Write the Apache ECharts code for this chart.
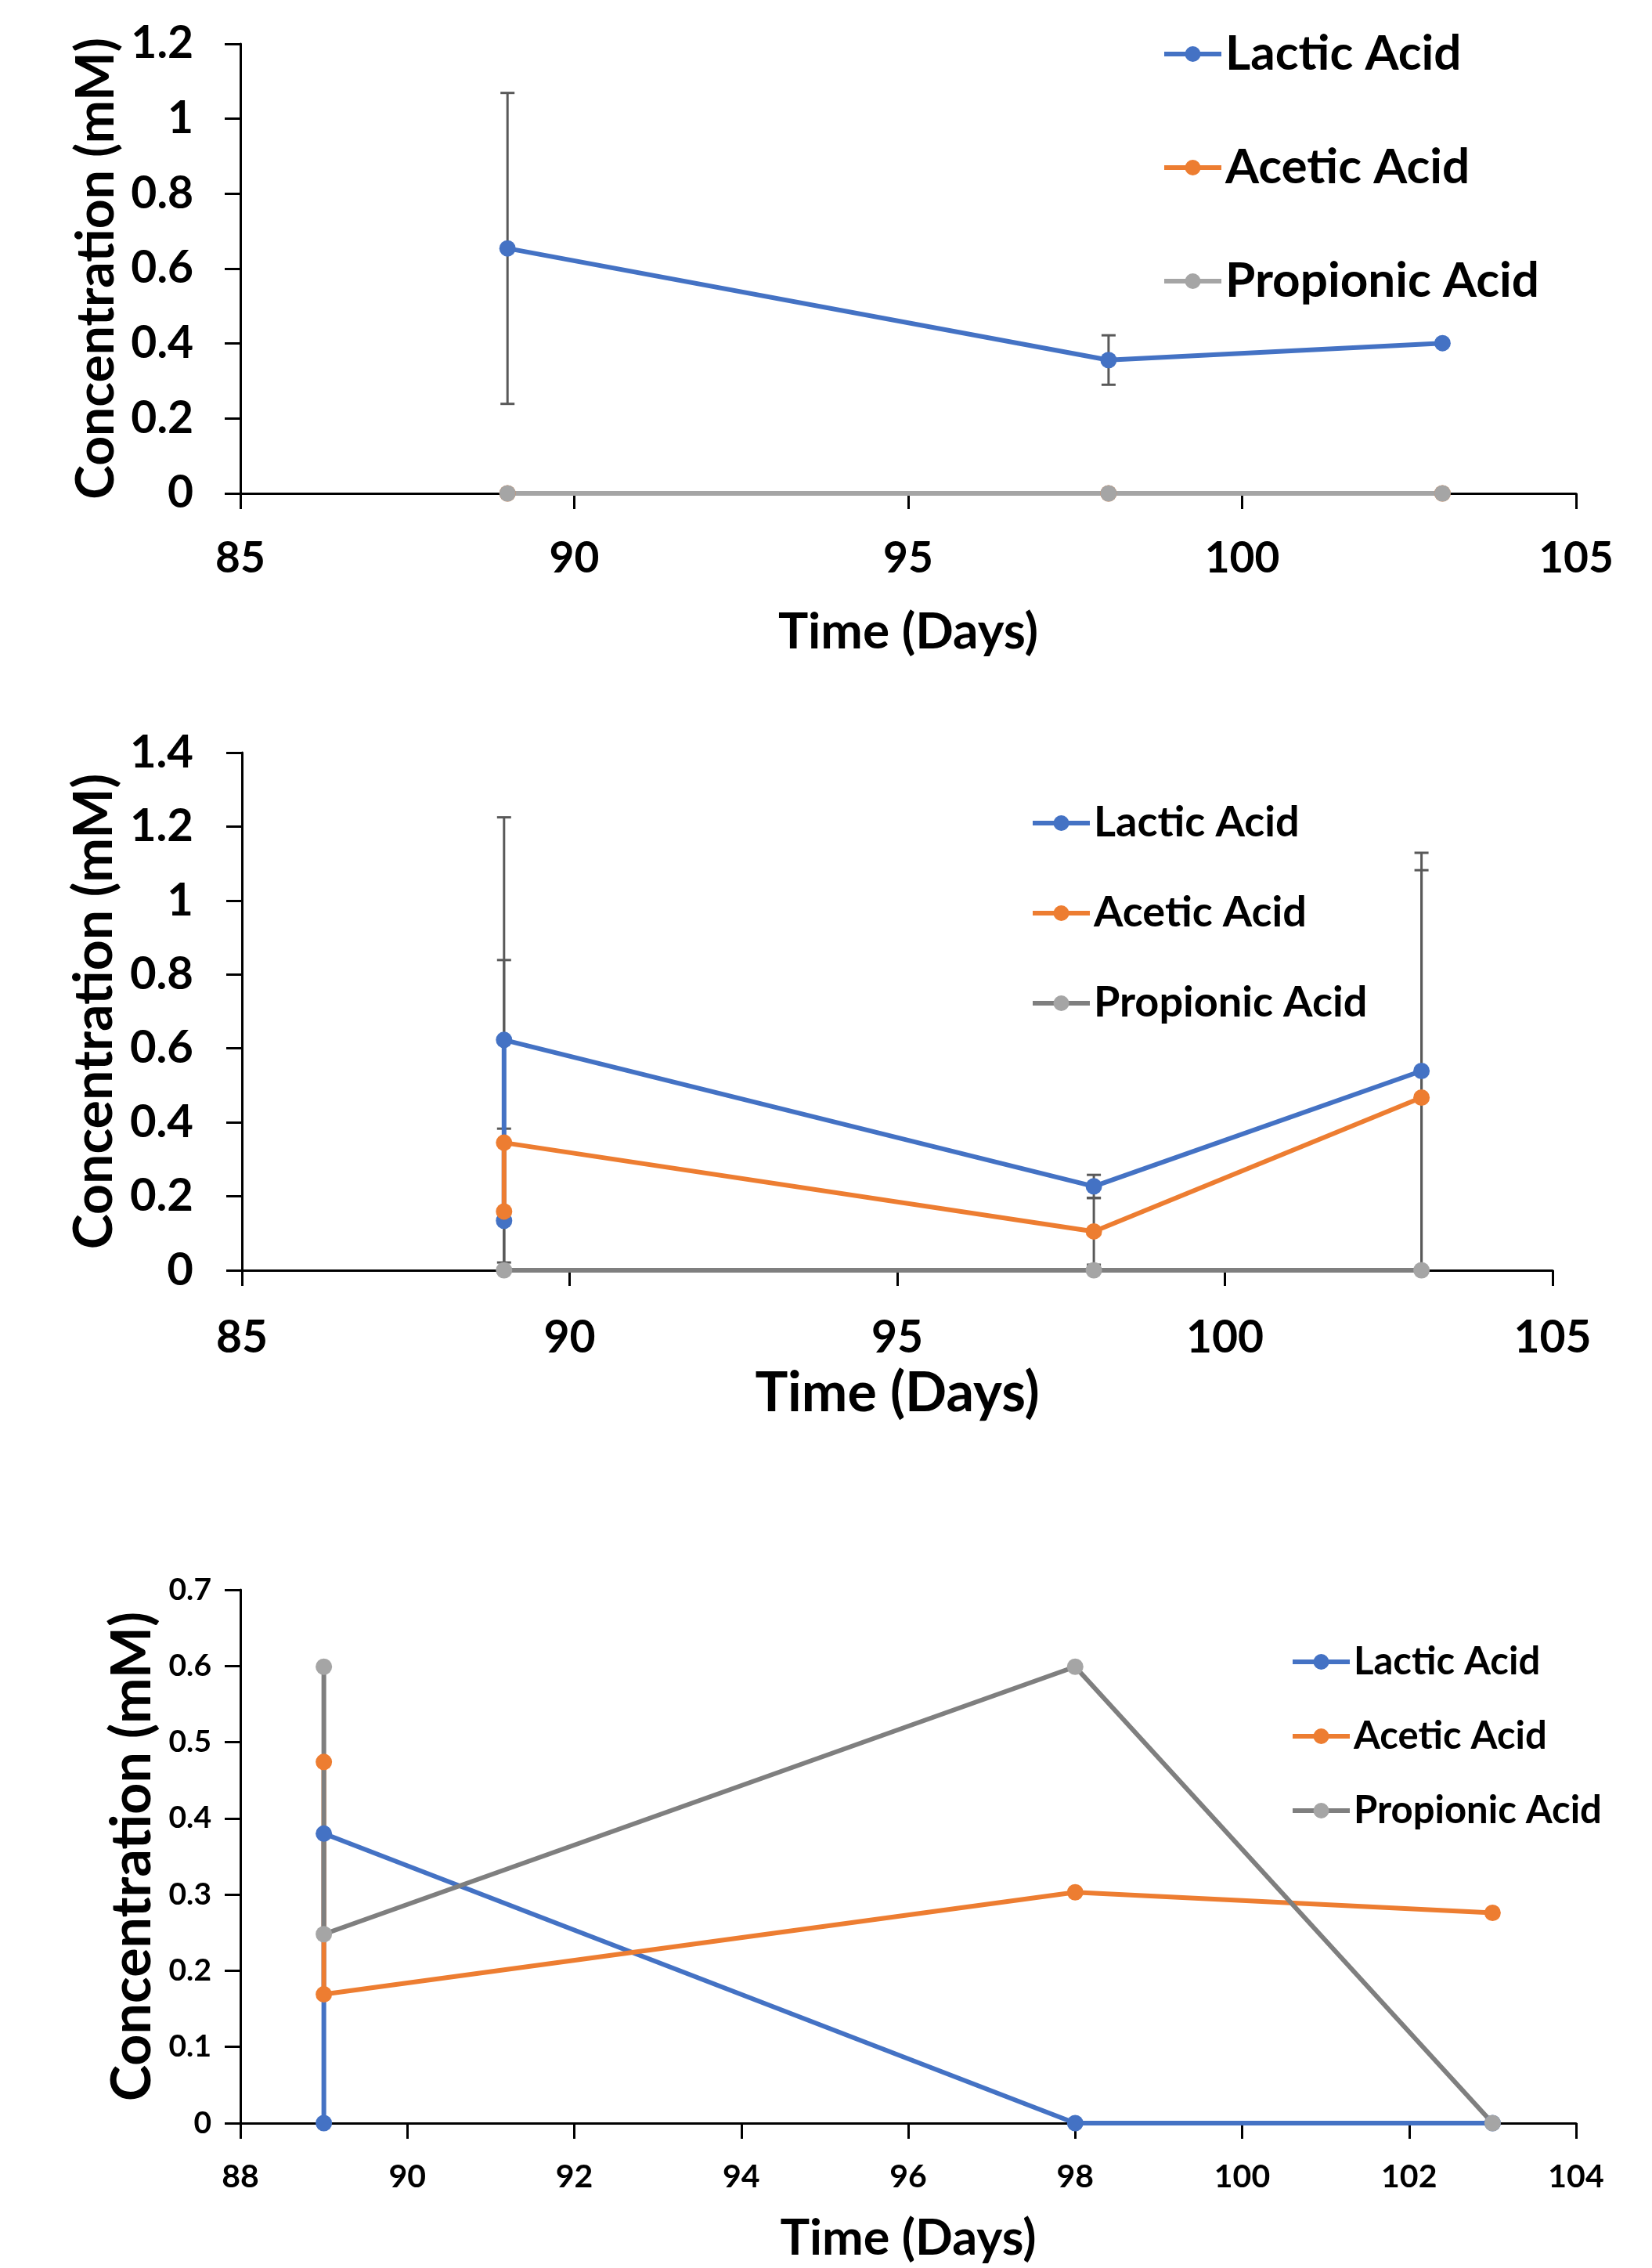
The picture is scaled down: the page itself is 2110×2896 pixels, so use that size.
<!DOCTYPE html>
<html>
<head>
<meta charset="utf-8">
<title>Concentration vs Time</title>
<script src="https://cdn.jsdelivr.net/npm/echarts@6/dist/echarts.min.js"></script>
<style>
    html, body { margin: 0; padding: 0; background: #fff; }
    .chart { width: 2110px; height: 2896px; }
</style>
</head>
<body>
<div class="chart"></div>
<script>
// 数据
const names = ['Lactic Acid', 'Acetic Acid', 'Propionic Acid'];

// 图1
const days1 = [89, 98, 103];
const lactic1 = [0.654, 0.356, 0.401];
const lacticErr1 = [0.415, 0.066, 0];
const acetic1 = [0, 0, 0];
const propionic1 = [0, 0, 0];

// 图2
const days2 = [89, 89, 98, 103];
const lactic2 = [0.134, 0.623, 0.227, 0.539];
const lacticErr2 = [0, 0.602, 0.031, 0.59];
const acetic2 = [0.159, 0.345, 0.105, 0.467];
const aceticErr2 = [0.224, 0.494, 0.09, 0.615];
const days2p = [89, 98, 103];
const propionic2 = [0, 0, 0];

// 图3
const days3 = [89, 89, 98, 103];
const lactic3 = [0, 0.38, 0, 0];
const acetic3 = [0.474, 0.169, 0.303, 0.276];
const propionic3 = [0.599, 0.248, 0.599, 0];

// 坐标轴刻度
const xTicks1 = [85, 105, 5];
const xTicks3 = [88, 104, 2];
const yTicks1 = [0, 1.2, 0.2];
const yTicks2 = [0, 1.4, 0.2];
const yTicks3 = [0, 0.7, 0.1];

const blue = '#4472c4';
const orange = '#ed7d31';
const grey = '#a5a5a5';
const darkGrey = '#7f7f7f';
const font = 'Lato';

function zip(xs, ys) {
    return xs.map(function (x, i) { return [x, ys[i]]; });
}

function errRows(xs, ys, errs) {
    let rows = [];
    for (let i = 0; i < xs.length; i++) {
        if (errs[i] > 0) rows.push([xs[i], ys[i] - errs[i], ys[i] + errs[i]]);
    }
    return rows;
}

// 误差线
function renderErr(params, api) {
    let x = api.value(0);
    let lo = api.coord([x, api.value(1)]);
    let hi = api.coord([x, api.value(2)]);
    let w = 9;
    let style = { stroke: '#595959', lineWidth: 3 };
    return {
        type: 'group',
        children: [
            { type: 'line', shape: { x1: lo[0], y1: lo[1], x2: hi[0], y2: hi[1] }, style: style },
            { type: 'line', shape: { x1: hi[0] - w, y1: hi[1], x2: hi[0] + w, y2: hi[1] }, style: style },
            { type: 'line', shape: { x1: lo[0] - w, y1: lo[1], x2: lo[0] + w, y2: lo[1] }, style: style }
        ]
    };
}

function xAxis(idx, ticks, size, margin, nameSize, nameGap) {
    return {
        type: 'value',
        gridIndex: idx,
        min: ticks[0],
        max: ticks[1],
        interval: ticks[2],
        name: 'Time (Days)',
        nameLocation: 'middle',
        nameGap: nameGap,
        nameTextStyle: { fontFamily: font, fontWeight: 'bold', fontSize: nameSize, color: '#000' },
        splitLine: { show: false },
        axisLine: { lineStyle: { color: '#000', width: 3 } },
        axisTick: { length: 20, lineStyle: { color: '#000', width: 3 } },
        axisLabel: { fontFamily: font, fontWeight: 'bold', fontSize: size, color: '#000', margin: margin }
    };
}

function yAxis(idx, ticks, size, margin, nameSize, nameGap) {
    return {
        type: 'value',
        gridIndex: idx,
        min: ticks[0],
        max: ticks[1],
        interval: ticks[2],
        name: 'Concentration (mM)',
        nameLocation: 'middle',
        nameGap: nameGap,
        nameTextStyle: { fontFamily: font, fontWeight: 'bold', fontSize: nameSize, color: '#000' },
        splitLine: { show: false },
        axisLine: { show: true, lineStyle: { color: '#000', width: 3 } },
        axisTick: { show: true, length: 20, lineStyle: { color: '#000', width: 3 } },
        axisLabel: { fontFamily: font, fontWeight: 'bold', fontSize: size, color: '#000', margin: margin }
    };
}

function line(idx, name, data, color, lineColor) {
    return {
        name: name,
        type: 'line',
        xAxisIndex: idx,
        yAxisIndex: idx,
        data: data,
        symbol: 'circle',
        symbolSize: 21,
        showAllSymbol: true,
        clip: false,
        z: 3,
        itemStyle: { color: color },
        lineStyle: { color: lineColor || color, width: 6 }
    };
}

function errSeries(idx, rows) {
    return {
        type: 'custom',
        xAxisIndex: idx,
        yAxisIndex: idx,
        renderItem: renderErr,
        encode: { x: 0, y: [1, 2] },
        data: rows,
        clip: true,
        z: 1,
        silent: true
    };
}

function legend(left, top, size, lineH, gap, propLine) {
    return {
        orient: 'vertical',
        left: left,
        top: top,
        padding: 0,
        itemGap: gap,
        itemWidth: 73,
        itemHeight: 25,
        lineStyle: { width: 6 },
        textStyle: { fontFamily: font, fontWeight: 'bold', fontSize: size, lineHeight: lineH, color: '#000' },
        data: [
            { name: names[0] },
            { name: names[1] },
            { name: names[2], itemStyle: { color: grey }, lineStyle: { color: propLine, width: 6 } }
        ]
    };
}

(function () {
    let myChart = echarts.init(document.getElementsByClassName('chart')[0]);
    let option = {
        animation: false,
        backgroundColor: '#fff',
        grid: [
            { left: 307, top: 56, width: 1706, height: 574 },
            { left: 309, top: 961, width: 1674, height: 661 },
            { left: 307, top: 2030, width: 1706, height: 681 }
        ],
        legend: [
            legend(1484, 34, 62, 70, 75, grey),
            legend(1316, 1021, 54, 60, 55, darkGrey),
            legend(1648, 2095, 49, 54, 41, darkGrey)
        ],
        xAxis: [
            xAxis(0, xTicks1, 55, 56, 64, 145),
            xAxis(1, xTicks1, 57, 58, 70, 122),
            xAxis(2, xTicks3, 41, 48, 63, 116)
        ],
        yAxis: [
            yAxis(0, yTicks1, 57, 60, 66, 142),
            yAxis(1, yTicks2, 58, 62, 68, 148),
            yAxis(2, yTicks3, 39, 37, 70, 92)
        ],
        series: [
            errSeries(0, errRows(days1, lactic1, lacticErr1)),
            line(0, names[0], zip(days1, lactic1), blue),
            line(0, names[1], zip(days1, acetic1), orange),
            line(0, names[2], zip(days1, propionic1), grey),

            errSeries(1, errRows(days2, lactic2, lacticErr2).concat(errRows(days2, acetic2, aceticErr2))),
            line(1, names[0], zip(days2, lactic2), blue),
            line(1, names[1], zip(days2, acetic2), orange),
            line(1, names[2], zip(days2p, propionic2), grey, darkGrey),

            line(2, names[0], zip(days3, lactic3), blue),
            line(2, names[1], zip(days3, acetic3), orange),
            line(2, names[2], zip(days3, propionic3), grey, darkGrey)
        ]
    };
    myChart.setOption(option);
    window.addEventListener('resize', function () {
        myChart.resize();
    })
})();
</script>
</body>
</html>
